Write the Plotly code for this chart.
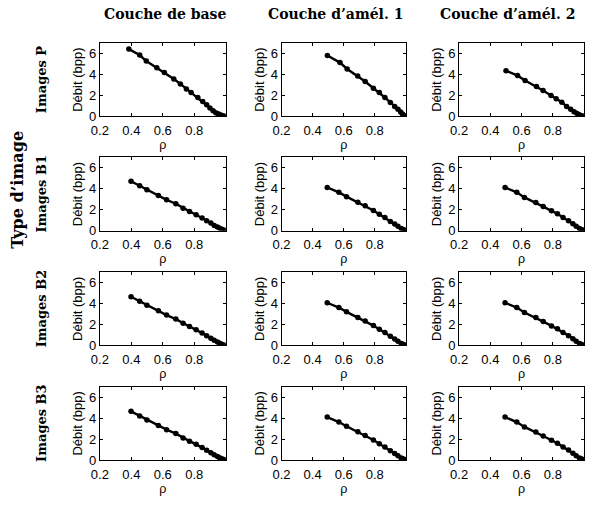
import plotly.graph_objects as go

W, H = 595, 508

# ---- data (rho, rate in bpp) ----
rho_base_P = [0.384, 0.453, 0.495, 0.562, 0.61, 0.67, 0.712, 0.75, 0.78, 0.823, 0.854, 0.879, 0.90, 0.92, 0.937, 0.952, 0.965, 0.977, 0.988, 1.0]
rate_base_P = [6.40, 5.84, 5.27, 4.64, 4.17, 3.57, 3.09, 2.62, 2.27, 1.80, 1.42, 1.10, 0.79, 0.53, 0.36, 0.25, 0.17, 0.10, 0.05, 0.0]

rho_e1_P = [0.495, 0.576, 0.622, 0.69, 0.738, 0.791, 0.829, 0.865, 0.90, 0.928, 0.949, 0.966, 0.978, 0.988, 1.0]
rate_e1_P = [5.80, 5.12, 4.51, 3.85, 3.32, 2.68, 2.27, 1.80, 1.33, 0.95, 0.69, 0.41, 0.22, 0.10, 0.0]

rho_e2_P = [0.50, 0.574, 0.622, 0.695, 0.737, 0.788, 0.821, 0.857, 0.888, 0.914, 0.935, 0.952, 0.966, 0.978, 0.989, 1.0]
rate_e2_P = [4.35, 3.88, 3.41, 2.84, 2.46, 1.99, 1.67, 1.36, 0.95, 0.69, 0.45, 0.30, 0.19, 0.10, 0.04, 0.0]

rho_base_B = [0.398, 0.453, 0.499, 0.572, 0.624, 0.683, 0.729, 0.77, 0.812, 0.85, 0.879, 0.906, 0.927, 0.948, 0.962, 0.975, 0.987, 1.0]
rate_base_B1 = [4.72, 4.29, 3.90, 3.36, 2.95, 2.57, 2.15, 1.84, 1.52, 1.20, 0.95, 0.72, 0.50, 0.34, 0.22, 0.13, 0.06, 0.0]
rate_base_B2 = [4.65, 4.22, 3.84, 3.31, 2.90, 2.52, 2.12, 1.81, 1.49, 1.18, 0.93, 0.70, 0.49, 0.33, 0.21, 0.12, 0.05, 0.0]
rate_base_B3 = [4.65, 4.21, 3.83, 3.30, 2.90, 2.52, 2.11, 1.80, 1.49, 1.18, 0.93, 0.70, 0.49, 0.33, 0.21, 0.12, 0.05, 0.0]

rho_enh_B = [0.494, 0.569, 0.618, 0.691, 0.738, 0.791, 0.829, 0.865, 0.90, 0.928, 0.949, 0.97, 0.98, 0.99, 1.0]
rate_e1_B1 = [4.13, 3.66, 3.25, 2.71, 2.37, 1.92, 1.57, 1.26, 0.88, 0.63, 0.41, 0.19, 0.11, 0.05, 0.0]
rate_e1_B2 = [4.08, 3.62, 3.21, 2.68, 2.34, 1.90, 1.55, 1.24, 0.87, 0.62, 0.40, 0.19, 0.11, 0.05, 0.0]
rate_e1_B3 = [4.10, 3.63, 3.22, 2.69, 2.35, 1.91, 1.56, 1.25, 0.87, 0.62, 0.40, 0.19, 0.11, 0.05, 0.0]
rate_e2_B1 = [4.13, 3.66, 3.18, 2.68, 2.30, 1.89, 1.61, 1.26, 0.95, 0.66, 0.41, 0.19, 0.11, 0.05, 0.0]
rate_e2_B2 = [4.08, 3.62, 3.15, 2.66, 2.28, 1.87, 1.59, 1.25, 0.94, 0.65, 0.40, 0.19, 0.11, 0.05, 0.0]
rate_e2_B3 = [4.10, 3.63, 3.16, 2.67, 2.29, 1.88, 1.60, 1.25, 0.94, 0.65, 0.40, 0.19, 0.11, 0.05, 0.0]

col_titles = ["Couche de base", "Couche d\u2019amél. 1", "Couche d\u2019amél. 2"]
row_titles = ["Images P", "Images B1", "Images B2", "Images B3"]
group_title = "Type d\u2019image"
x_ticks = [0.2, 0.4, 0.6, 0.8]
y_ticks = [0, 2, 4, 6]

series = [
    [(rho_base_P, rate_base_P), (rho_e1_P, rate_e1_P), (rho_e2_P, rate_e2_P)],
    [(rho_base_B, rate_base_B1), (rho_enh_B, rate_e1_B1), (rho_enh_B, rate_e2_B1)],
    [(rho_base_B, rate_base_B2), (rho_enh_B, rate_e1_B2), (rho_enh_B, rate_e2_B2)],
    [(rho_base_B, rate_base_B3), (rho_enh_B, rate_e1_B3), (rho_enh_B, rate_e2_B3)],
]

# ---- layout geometry (pixels) ----
col_px = [(92.3, 220.0), (276.7, 403.0), (457.0, 584.0)]
row_px = [(43.5, 118.3), (160.0, 234.3), (276.5, 351.0), (393.0, 467.3)]

def px_x(p):
    return p / W

def px_y(p):
    return 1 - p / H

SANS = "Liberation Sans, Arial, sans-serif"
SERIF = "DejaVu Serif, Liberation Serif, serif"

fig = go.Figure()
layout = dict(
    width=W, height=H,
    margin=dict(l=0, r=0, t=0, b=0),
    paper_bgcolor="white", plot_bgcolor="white",
    showlegend=False,
    font=dict(family=SANS, size=12, color="black"),
)

tickfont = dict(family=SANS, size=13, color="black")
k = 0
for r in range(4):
    for c in range(3):
        k += 1
        xs, ys = series[r][c]
        suffix = "" if k == 1 else str(k)
        fig.add_trace(go.Scatter(
            x=xs, y=ys, mode="lines+markers",
            line=dict(color="black", width=2.4),
            marker=dict(color="black", size=5.5),
            xaxis="x" + suffix, yaxis="y" + suffix,
            hoverinfo="skip",
        ))
        x0, x1 = col_px[c]
        y0, y1 = row_px[r]
        layout["xaxis" + suffix] = dict(
            domain=[px_x(x0), px_x(x1)], anchor="y" + suffix,
            range=[0.2, 1.0], tickvals=x_ticks + [1.0],
            ticktext=["0.2", "0.4", "0.6", "0.8", ""],
            ticks="inside", ticklen=3, tickcolor="black",
            showline=True, linecolor="black", linewidth=1, mirror="ticks",
            showgrid=False, zeroline=False, tickfont=tickfont,
            ticklabelstandoff=2,
            title=dict(text="ρ", font=dict(size=12.5, family=SANS), standoff=1),
        )
        layout["yaxis" + suffix] = dict(
            domain=[px_y(y1), px_y(y0)], anchor="x" + suffix,
            range=[0, 7], tickvals=y_ticks,
            ticks="inside", ticklen=3, tickcolor="black",
            showline=True, linecolor="black", linewidth=1, mirror="ticks",
            showgrid=False, zeroline=False, tickfont=tickfont,
            title=dict(text="Débit (bpp)", font=dict(size=13, family=SANS), standoff=3),
        )

annotations = []
title_font = dict(family=SERIF, size=14, color="black")
col_centers = [158, 332, 506]
for c, t in enumerate(col_titles):
    annotations.append(dict(
        text="<b>" + t + "</b>", x=px_x(col_centers[c]), y=px_y(14),
        xref="paper", yref="paper", showarrow=False,
        xanchor="center", yanchor="middle", font=title_font,
    ))
for r, t in enumerate(row_titles):
    cy = (row_px[r][0] + row_px[r][1]) / 2
    annotations.append(dict(
        text="<b>" + t + "</b>", x=px_x(33), y=px_y(cy),
        xref="paper", yref="paper", showarrow=False, textangle=-90,
        xanchor="center", yanchor="middle",
        font=dict(family=SERIF, size=13, color="black"),
    ))
annotations.append(dict(
    text="<b>" + group_title + "</b>", x=px_x(9), y=px_y(193),
    xref="paper", yref="paper", showarrow=False, textangle=-90,
    xanchor="center", yanchor="middle",
    font=dict(family=SERIF, size=16, color="black"),
))
layout["annotations"] = annotations

fig.update_layout(**layout)
fig.write_html("out.html")
